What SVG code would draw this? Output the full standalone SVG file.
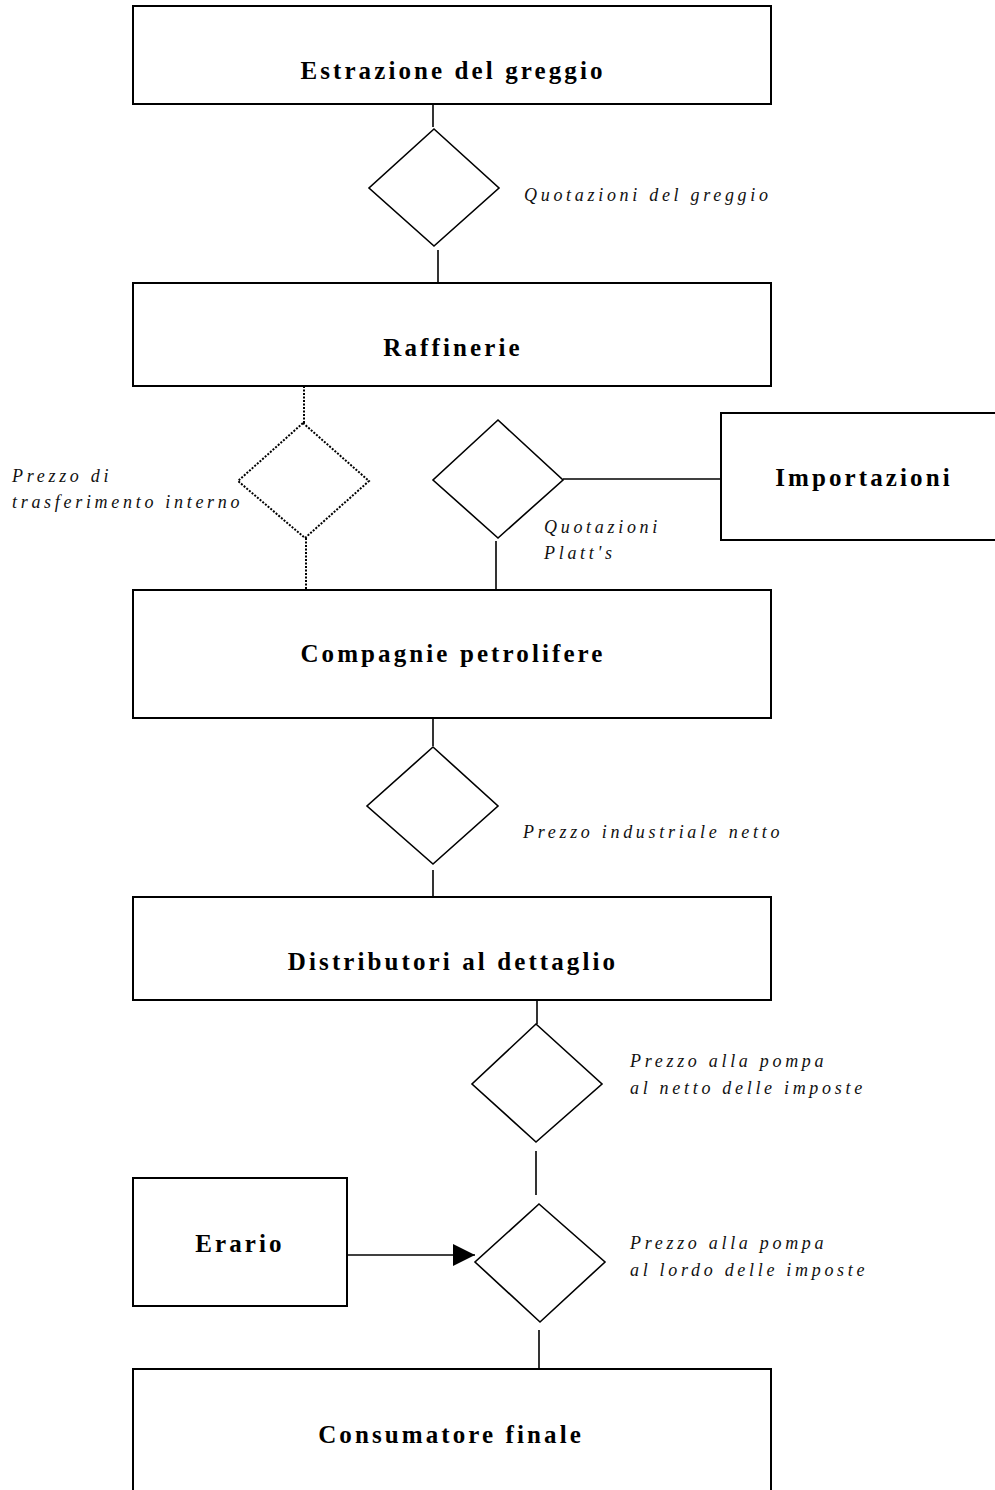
<svg xmlns="http://www.w3.org/2000/svg" width="995" height="1490" viewBox="0 0 995 1490">
<style>
.box{fill:#fff;stroke:#000;stroke-width:2}
.dia{fill:#fff;stroke:#000;stroke-width:1.6}
.dot{fill:none;stroke:#000;stroke-width:2;stroke-dasharray:2 1.5}
.ln{fill:none;stroke:#000;stroke-width:1.6}
.t{font-family:"Liberation Serif",serif;font-weight:bold;font-size:25px;letter-spacing:3.1px;text-anchor:middle;fill:#000}
.l{font-family:"Liberation Serif",serif;font-style:italic;font-size:18px;letter-spacing:3.7px;fill:#111}
</style>
<defs>
<marker id="arr" markerWidth="22" markerHeight="22" refX="22" refY="11" orient="auto" markerUnits="userSpaceOnUse">
<path d="M0,0 L22,11 L0,22 Z" fill="#000"/>
</marker>
</defs>
<g id="connectors">
<line class="ln" x1="433" y1="104" x2="433" y2="127"/>
<line class="ln" x1="438" y1="250" x2="438" y2="283"/>
<line class="dot" x1="304" y1="386" x2="304" y2="423"/>
<line class="dot" x1="306" y1="538" x2="306" y2="590"/>
<line class="ln" x1="563" y1="479" x2="721" y2="479"/>
<line class="ln" x1="496" y1="541" x2="496" y2="590"/>
<line class="ln" x1="433" y1="714" x2="433" y2="746"/>
<line class="ln" x1="433" y1="870" x2="433" y2="897"/>
<line class="ln" x1="537" y1="997" x2="537" y2="1024"/>
<line class="ln" x1="536" y1="1151" x2="536" y2="1195"/>
<line class="ln" x1="347" y1="1255" x2="475" y2="1255" marker-end="url(#arr)"/>
<line class="ln" x1="539" y1="1330" x2="539" y2="1369"/>
</g>
<g id="n-estrazione">
<rect class="box" x="133" y="6" width="638" height="98"/>
<text class="t" x="453" y="79">Estrazione del greggio</text>
</g>
<g id="d-quotazioni-greggio">
<polygon class="dia" points="434,129 499,188 434,246 369,188"/>
<text class="l" x="524" y="201">Quotazioni del greggio</text>
</g>
<g id="n-raffinerie">
<rect class="box" x="133" y="283" width="638" height="103"/>
<text class="t" x="453" y="356">Raffinerie</text>
</g>
<g id="d-prezzo-trasferimento">
<polygon class="dot" points="303,423 369,481 305,538 238,481"/>
<text class="l" x="12" y="482">Prezzo di</text>
<text class="l" x="12" y="508">trasferimento interno</text>
</g>
<g id="d-platts">
<polygon class="dia" points="498,420 563,480 498,538 433,480"/>
<text class="l" x="544" y="533">Quotazioni</text>
<text class="l" x="544" y="559">Platt's</text>
</g>
<g id="n-importazioni">
<rect class="box" x="721" y="413" width="285" height="127"/>
<text class="t" x="864" y="486">Importazioni</text>
</g>
<g id="n-compagnie">
<rect class="box" x="133" y="590" width="638" height="128"/>
<text class="t" x="453" y="662">Compagnie petrolifere</text>
</g>
<g id="d-prezzo-industriale">
<polygon class="dia" points="433,747 498,806 433,864 367,806"/>
<text class="l" x="523" y="838">Prezzo industriale netto</text>
</g>
<g id="n-distributori">
<rect class="box" x="133" y="897" width="638" height="103"/>
<text class="t" x="453" y="970">Distributori al dettaglio</text>
</g>
<g id="d-pompa-netto">
<polygon class="dia" points="536,1024 602,1084 536,1142 472,1084"/>
<text class="l" x="630" y="1067">Prezzo alla pompa</text>
<text class="l" x="630" y="1094">al netto delle imposte</text>
</g>
<g id="n-erario">
<rect class="box" x="133" y="1178" width="214" height="128"/>
<text class="t" x="240" y="1252">Erario</text>
</g>
<g id="d-pompa-lordo">
<polygon class="dia" points="539,1204 605,1262 540,1322 475,1262"/>
<text class="l" x="630" y="1249">Prezzo alla pompa</text>
<text class="l" x="630" y="1276">al lordo delle imposte</text>
</g>
<g id="n-consumatore">
<rect class="box" x="133" y="1369" width="638" height="140"/>
<text class="t" x="451" y="1443">Consumatore finale</text>
</g>
</svg>
